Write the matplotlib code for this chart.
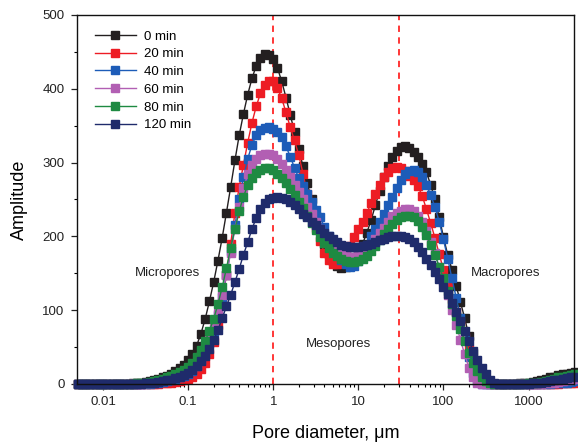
import numpy as np
import matplotlib
matplotlib.use("Agg")
import matplotlib.pyplot as plt
from matplotlib.ticker import FixedLocator, FuncFormatter, LogLocator, NullFormatter, MultipleLocator

plt.rcParams['font.family'] = ['Liberation Sans', 'DejaVu Sans']

# Pore-diameter grid (log-spaced measurement bins, 20 per decade), um
pore_diameter = np.logspace(-2.3, 3.55, 118)

amp_0min = [
    0, 0, 0, 0, 0, 0, 0, 0, 0, 0, 0, 0,
    0, 1, 1, 2, 3, 4, 5, 7, 9, 11, 14, 17, 21, 26,
    32, 40, 52, 68, 88, 112, 138, 167, 198, 232, 267, 303, 337, 366, 392, 414, 431, 442, 447, 446,
    440, 428, 410, 388, 365, 341, 318, 295, 272, 250, 228, 208, 190, 176, 166, 160, 157, 158, 162, 169,
    178, 190, 205, 222, 242, 262, 280, 295, 307, 316, 321, 322, 320, 315, 307, 298, 287, 270, 250, 226,
    199, 175, 155, 133, 111, 89, 65, 42, 22, 9, 2, 0, 0, 0, 0, 0, 0, 0, 1, 1,
    2, 3, 4, 6, 7, 9, 10, 12, 13, 14, 15, 16]

amp_20min = [
    0, 0, 0, 0, 0, 0, 0, 0, 0, 0, 0, 0,
    0, 0, 0, 0, 0, 0, 0, 0, 1, 1, 2, 3, 4, 5,
    7, 10, 14, 20, 28, 40, 57, 80, 110, 148, 190, 232, 267, 297, 327, 354, 376, 394, 405, 411,
    410, 401, 387, 368, 348, 330, 310, 285, 258, 234, 212, 194, 178, 168, 163, 162, 166, 175, 187, 199,
    210, 220, 232, 245, 258, 270, 280, 287, 292, 294, 293, 289, 282, 276, 268, 255, 237, 218, 198, 176,
    155, 135, 115, 97, 80, 63, 47, 33, 21, 12, 5, 1, 0, 0, 0, 0, 0, 0, 0, 0,
    0, 0, 0, 0, 0, 0, 0, 0, 1, 1, 1, 2]

amp_40min = [
    0, 0, 0, 0, 0, 0, 0, 0, 0, 0, 0, 0,
    0, 0, 0, 0, 0, 0, 1, 2, 3, 4, 5, 7, 9, 11,
    14, 18, 24, 32, 42, 55, 72, 93, 118, 148, 180, 215, 250, 280, 305, 324, 337, 344, 347, 348,
    346, 342, 334, 322, 308, 293, 279, 268, 258, 246, 236, 226, 213, 200, 188, 177, 168, 162, 159, 160,
    167, 177, 189, 200, 210, 220, 231, 242, 254, 266, 276, 284, 289, 290, 287, 280, 270, 256, 240, 220,
    196, 170, 143, 117, 90, 62, 36, 15, 4, 0, 0, 0, 0, 0, 0, 0, 0, 0, 0, 0,
    0, 0, 0, 0, 0, 0, 1, 1, 2, 2, 3, 4]

amp_60min = [
    0, 0, 0, 0, 0, 0, 0, 0, 0, 0, 0, 0,
    0, 0, 0, 0, 1, 2, 3, 4, 5, 6, 8, 10, 12, 15,
    18, 23, 29, 38, 48, 60, 76, 96, 120, 148, 178, 210, 240, 265, 284, 297, 305, 310, 312, 312,
    310, 305, 298, 290, 280, 270, 260, 250, 240, 230, 220, 210, 201, 193, 186, 180, 176, 173, 172, 172,
    173, 176, 181, 188, 196, 204, 212, 220, 227, 232, 235, 237, 237, 234, 228, 219, 207, 193, 177, 159,
    140, 120, 100, 80, 60, 40, 22, 9, 2, 0, 0, 0, 0, 0, 0, 0, 0, 0, 0, 0,
    0, 0, 0, 0, 1, 1, 2, 3, 4, 5, 6, 7]

amp_80min = [
    0, 0, 0, 0, 0, 0, 0, 0, 0, 0, 0, 0,
    0, 0, 1, 1, 2, 3, 4, 5, 7, 9, 11, 13, 16, 19,
    23, 28, 36, 46, 58, 72, 88, 108, 131, 157, 184, 210, 234, 254, 269, 279, 286, 290, 292, 292,
    290, 285, 279, 272, 264, 256, 247, 238, 228, 218, 208, 199, 191, 184, 178, 173, 169, 166, 165, 165,
    166, 169, 174, 180, 187, 195, 203, 210, 217, 222, 226, 228, 228, 226, 221, 213, 202, 189, 175, 159,
    143, 126, 109, 92, 75, 58, 42, 29, 18, 10, 4, 1, 0, 0, 0, 0, 0, 0, 0, 0,
    1, 1, 2, 3, 4, 6, 7, 9, 10, 11, 12, 13]

amp_120min = [
    0, 0, 0, 0, 0, 0, 0, 0, 0, 0, 0, 0,
    0, 0, 0, 0, 1, 1, 2, 3, 4, 5, 6, 8, 10, 12,
    15, 19, 24, 31, 38, 47, 59, 73, 89, 105, 121, 138, 156, 175, 192, 210, 225, 237, 245, 250,
    252, 253, 252, 250, 247, 242, 237, 231, 226, 220, 215, 210, 205, 200, 196, 192, 189, 187, 186, 186,
    186, 187, 188, 190, 192, 195, 197, 199, 200, 201, 200, 199, 196, 192, 186, 179, 170, 161, 152, 142,
    132, 122, 110, 98, 85, 72, 58, 45, 33, 22, 13, 6, 2, 0, 0, 0, 0, 0, 0, 0,
    0, 1, 1, 2, 3, 4, 5, 6, 7, 8, 9, 10]

series_labels = ['0 min', '20 min', '40 min', '60 min', '80 min', '120 min']
series_values = [amp_0min, amp_20min, amp_40min, amp_60min, amp_80min, amp_120min]
series_colors = ['#231f20', '#ed1c24', '#1d5cb8', '#b25fb3', '#1e8a42', '#1f2b6b']

x_ticks = [0.01, 0.1, 1, 10, 100, 1000]
x_tick_labels = ['0.01', '0.1', '1', '10', '100', '1000']
boundaries = [1, 30]

fig = plt.figure(figsize=(5.78, 4.43), dpi=100)
ax = fig.add_axes([0.1332, 0.1332, 0.8600, 0.833])

for vals, lab, col in zip(series_values, series_labels, series_colors):
    ax.plot(pore_diameter, vals, '-s', color=col, mfc=col, mec=col,
            ms=5.5, lw=1.0, label=lab, clip_on=False)

for b in boundaries:
    ax.axvline(b, color='#ff2626', ls=(0, (3.5, 3)), lw=1.3, zorder=0.5)

ax.set_xscale('log')
ax.set_xlim(10 ** -2.306, 10 ** 3.535)
ax.set_ylim(0, 500)

ax.xaxis.set_major_locator(FixedLocator(x_ticks))
ax.xaxis.set_major_formatter(FuncFormatter(lambda v, p: x_tick_labels[x_ticks.index(v)] if v in x_ticks else ''))
ax.xaxis.set_minor_locator(LogLocator(base=10, subs=np.arange(2, 10)))
ax.xaxis.set_minor_formatter(NullFormatter())
ax.yaxis.set_major_locator(MultipleLocator(100))
ax.yaxis.set_minor_locator(MultipleLocator(50))

ax.tick_params(which='major', direction='out', length=4, width=0.9, labelsize=9.5, colors='#222222', pad=5)
ax.tick_params(which='minor', direction='out', length=2.5, width=0.8)
for s in ax.spines.values():
    s.set_linewidth(1.0)
    s.set_color('#111111')

ax.set_xlabel('Pore diameter, μm', fontsize=13, labelpad=12)
ax.set_ylabel('Amplitude', fontsize=13, labelpad=10)

ax.text(0.058, 150, 'Micropores', fontsize=9.5, ha='center', va='center', color='#222222')
ax.text(5.8, 54, 'Mesopores', fontsize=9.5, ha='center', va='center', color='#222222')
ax.text(537, 150, 'Macropores', fontsize=9.5, ha='center', va='center', color='#222222')

leg = ax.legend(loc='upper left', bbox_to_anchor=(0.02, 0.98), frameon=False,
                fontsize=9.5, handlelength=3.1, handletextpad=0.6, labelspacing=0.42,
                borderaxespad=0.2, markerscale=1.1)

fig.savefig('out.png', dpi=100)
